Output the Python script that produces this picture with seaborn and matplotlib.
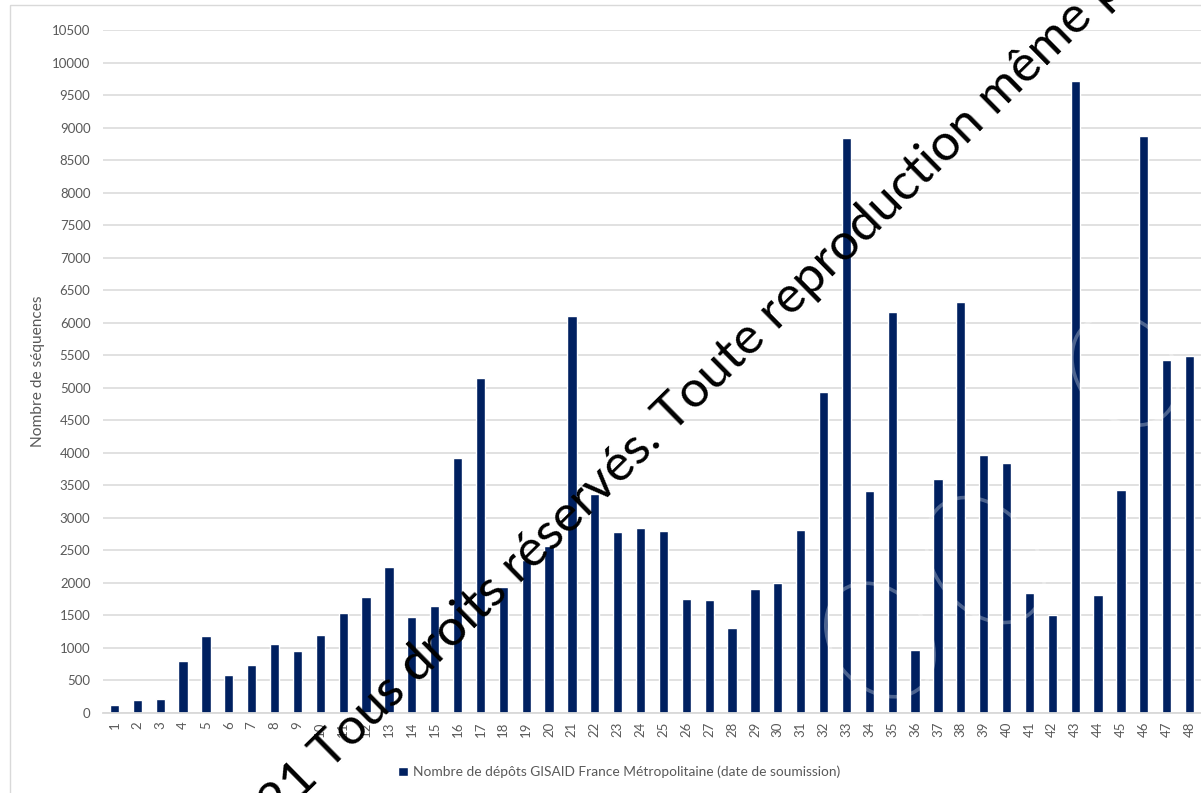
import matplotlib
matplotlib.use("Agg")
import matplotlib.pyplot as plt
import seaborn as sns
import pandas as pd
from matplotlib.patches import Ellipse, Rectangle

# Weekly GISAID submissions, France métropolitaine
semaines = [str(i) for i in range(1, 49)]
depots = [120, 200, 215, 800, 1180, 590, 740, 1060, 960, 1200,
          1530, 1780, 2250, 1470, 1650, 3920, 5150, 1930, 2350, 2560,
          6110, 3370, 2780, 2840, 2800, 1750, 1740, 1300, 1900, 2000,
          2810, 4930, 8840, 3410, 6170, 970, 3590, 6320, 3960, 3850,
          1840, 1510, 9720, 1820, 3430, 8870, 5430, 5490]
graduations = list(range(0, 10501, 500))
serie = "Nombre de dépôts GISAID France Métropolitaine (date de soumission)"
titre_y = "Nombre de séquences"
mention = "©2021 Tous droits réservés. Toute reproduction même partielle interdite"

BLEU = "#002060"
GRIS_TXT = "#595959"
GRIS_LIGNE = "#D9D9D9"

sns.set_theme(style="white")
plt.rcParams["font.family"] = ["Lato", "DejaVu Sans"]

W, H = 1201, 793
fig = plt.figure(figsize=(W / 100, H / 100), dpi=100)
fig.patch.set_facecolor("white")

ax = fig.add_axes([103 / W, 1 - 713 / H, 1 - 103 / W, (713 - 30) / H])

df = pd.DataFrame({"semaine": semaines, "depots": depots})
sns.barplot(data=df, x="semaine", y="depots", color=BLEU, saturation=1,
            width=0.4, label=serie, ax=ax, zorder=3)

ax.set_ylim(0, 10500)
ax.set_xlim(-0.5, len(semaines) - 0.5)
ax.set_yticks(graduations)
ax.set_yticklabels([str(v) for v in graduations])
ax.yaxis.grid(True, color=GRIS_LIGNE, linewidth=1.1, zorder=0)
ax.set_axisbelow(True)
for s in ("top", "right", "left"):
    ax.spines[s].set_visible(False)
ax.spines["bottom"].set_color(GRIS_LIGNE)
ax.spines["bottom"].set_linewidth(1.3)
ax.spines["bottom"].set_zorder(4)

ax.tick_params(axis="y", length=0, pad=9, labelsize=9.5, labelcolor=GRIS_TXT)
ax.tick_params(axis="x", length=0, pad=6, labelsize=9.5, labelcolor=GRIS_TXT,
               labelrotation=90)

ax.set_xlabel("")
ax.set_ylabel(titre_y, fontsize=11.2, color=GRIS_TXT)
ax.yaxis.set_label_coords((45 - 103) / 1098, 0.50)

leg = ax.legend(loc="center", bbox_to_anchor=(619 / W, 1 - 772 / H),
                bbox_transform=fig.transFigure, frameon=False,
                handlelength=0.7, handleheight=0.7, handletextpad=0.35,
                fontsize=9.9, labelcolor=GRIS_TXT)

# Overlay in pixel space: chart-area border, logo rings and copyright mention
ov = fig.add_axes([0, 0, 1, 1], zorder=10)
ov.set_xlim(0, W)
ov.set_ylim(H, 0)
ov.axis("off")
ov.patch.set_alpha(0)

ov.add_patch(Rectangle((10, 5), 3000, 3000, fill=False,
                       edgecolor=GRIS_LIGNE, linewidth=1))

for (cx, cy, w, h, ang) in [(880, 640, 95, 125, -40), (985, 560, 100, 140, -40),
                            (1125, 370, 95, 120, -40)]:
    ov.add_patch(Ellipse((cx, cy), w, h, angle=ang, fill=False,
                         edgecolor="white", alpha=0.3, linewidth=2.6))

ov.text(793, 316, mention, rotation=44.5, rotation_mode="anchor",
        ha="center", va="baseline", fontsize=37, color="black",
        family=["Lato", "DejaVu Sans"])

fig.savefig("out.png", dpi=100, facecolor="white")
